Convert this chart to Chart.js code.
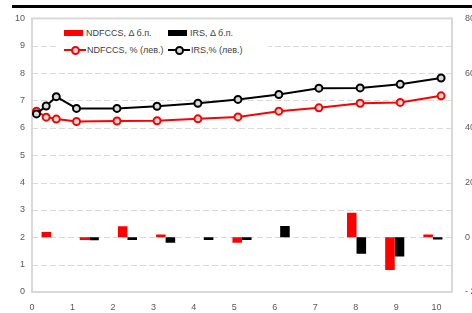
<!DOCTYPE html>
<html>
<head>
<meta charset="utf-8">
<script src="https://cdn.jsdelivr.net/npm/chart.js@4.4.1/dist/chart.umd.min.js"></script>
<style>
    body { margin: 0; background: #fff; }
    #wrap { position: relative; width: 472px; height: 313px; font-family: 'Liberation Sans', Arial, sans-serif; }
    #topRule { position: absolute; left: 12px; right: 0; top: 5px; height: 3px; background: #000; }
    #legend-container {
        position: absolute; left: 58px; top: 22px; width: 210px; height: 38px;
        background: #fff; font-size: 9px; color: #404040;
    }
</style>
</head>
<body>
<div id="wrap">
    <canvas id="mixChart" width="472" height="313"></canvas>
    <div id="topRule"></div>
    <div id="legend-container"></div>
</div>
<script>
// tenor positions of the yield curves (x, years)
const tenors = [0.11, 0.35, 0.60, 1.10, 2.10, 3.09, 4.10, 5.09, 6.10, 7.09, 8.11, 9.10, 10.11];
const ndfccsPct = [6.61, 6.39, 6.32, 6.23, 6.25, 6.26, 6.33, 6.40, 6.61, 6.73, 6.90, 6.93, 7.17];
const irsPct = [6.51, 6.80, 7.14, 6.71, 6.71, 6.79, 6.90, 7.04, 7.22, 7.45, 7.46, 7.59, 7.82];

// changes in b.p. (right axis), one per bar category
const barCategories = ['3M', '1Y', '2Y', '3Y', '4Y', '5Y', '6Y', '7Y', '8Y', '9Y', '10Y'];
const ndfccsDelta = [1.9, -1.0, 4.0, 1.0, 0, -2.0, 0, 0, 9.0, -12.0, 1.0];
const irsDelta = [0, -1.1, -1.0, -2.0, -1.0, -1.0, 4.1, 0, -6.0, -7.0, -0.8];

const xTicks = [0, 1, 2, 3, 4, 5, 6, 7, 8, 9, 10];

const toPoints = (xs, ys) => xs.map((x, i) => ({x: x, y: ys[i]}));

const getOrCreateLegendList = (id) => {
    const legendContainer = document.getElementById(id);
    let listContainer = legendContainer.querySelector('ul');
    if (!listContainer) {
        listContainer = document.createElement('ul');
        listContainer.style.display = 'grid';
        listContainer.style.gridTemplateColumns = '104px 100px';
        listContainer.style.gridTemplateRows = '17px 17px';
        listContainer.style.margin = 0;
        listContainer.style.padding = '2.5px 0 0 6px';
        listContainer.style.listStyle = 'none';
        legendContainer.appendChild(listContainer);
    }
    return listContainer;
};

const htmlLegendPlugin = {
    id: 'htmlLegend',
    afterUpdate(chart, args, options) {
        const ul = getOrCreateLegendList(options.containerID);
        while (ul.firstChild) {
            ul.firstChild.remove();
        }

        chart.data.datasets.forEach(ds => {
            const li = document.createElement('li');
            li.style.display = 'flex';
            li.style.alignItems = 'center';
            li.style.whiteSpace = 'nowrap';

            const mark = document.createElement('span');
            mark.style.display = 'inline-block';
            mark.style.position = 'relative';
            if (ds.type !== 'line') {
                mark.style.width = '19px';
                mark.style.height = '6px';
                mark.style.background = ds.backgroundColor;
                mark.style.marginRight = '3px';
            } else {
                mark.style.width = '22px';
                mark.style.height = '2px';
                mark.style.background = ds.borderColor;
                mark.style.marginRight = '1px';
                const dot = document.createElement('span');
                dot.style.position = 'absolute';
                dot.style.left = '7px';
                dot.style.top = '-3.5px';
                dot.style.width = '5px';
                dot.style.height = '5px';
                dot.style.borderRadius = '50%';
                dot.style.border = '2px solid ' + ds.borderColor;
                dot.style.background = '#d9d9d9';
                mark.appendChild(dot);
            }

            const text = document.createElement('span');
            text.textContent = ds.label;

            li.appendChild(mark);
            li.appendChild(text);
            ul.appendChild(li);
        });
    }
};

// light grey frame and dashed gridlines of the left axis
const plotFrame = {
    id: 'plotFrame',
    beforeDatasetsDraw(chart) {
        const {ctx, chartArea: a} = chart;
        const yScale = chart.scales.y;
        ctx.save();
        ctx.strokeStyle = '#d9d9d9';
        ctx.lineWidth = 1;
        ctx.setLineDash([6, 3]);
        yScale.ticks.forEach(t => {
            const py = Math.round(yScale.getPixelForValue(t.value)) + 0.5;
            ctx.beginPath();
            ctx.moveTo(a.left, py);
            ctx.lineTo(a.right, py);
            ctx.stroke();
        });
        ctx.setLineDash([]);
        ctx.lineWidth = 2;
        ctx.strokeRect(a.left, a.top, a.right - a.left, a.bottom - a.top);
        ctx.restore();
    }
};

const tickFont = {family: "'Liberation Sans', Arial, sans-serif", size: 9};

const mixChart = new Chart('mixChart', {
    type: 'bar',
    data: {
        labels: barCategories,
        datasets: [{
            label: 'NDFCCS, Δ б.п.',
            data: ndfccsDelta,
            backgroundColor: '#ff0000',
            xAxisID: 'xb',
            yAxisID: 'y2',
            order: 2
        }, {
            label: 'IRS, Δ б.п.',
            data: irsDelta,
            backgroundColor: '#000000',
            xAxisID: 'xb',
            yAxisID: 'y2',
            order: 3
        }, {
            type: 'line',
            label: 'NDFCCS, % (лев.)',
            data: toPoints(tenors, ndfccsPct),
            borderColor: '#ff0000',
            borderWidth: 2,
            pointRadius: 3.5,
            pointBorderWidth: 2,
            pointBackgroundColor: '#d9d9d9',
            pointBorderColor: '#ff0000',
            xAxisID: 'x',
            yAxisID: 'y',
            order: 1
        }, {
            type: 'line',
            label: 'IRS,% (лев.)',
            data: toPoints(tenors, irsPct),
            borderColor: '#000000',
            borderWidth: 2,
            pointRadius: 3.5,
            pointBorderWidth: 2,
            pointBackgroundColor: '#d9d9d9',
            pointBorderColor: '#000000',
            xAxisID: 'x',
            yAxisID: 'y',
            order: 0
        }]
    },
    options: {
        responsive: false,
        animation: false,
        layout: {padding: {top: 15, left: 0, right: 0, bottom: 0}},
        // the line datasets sit on their own x axis, so the bar slots are split in four
        categoryPercentage: 1.0,
        barPercentage: 1.0,
        elements: {
            bar: {inflateAmount: 0}
        },
        scales: {
            x: {
                type: 'linear',
                position: 'bottom',
                offset: false,
                min: 0,
                max: 10.38,
                afterBuildTicks: axis => {
                    axis.ticks = xTicks.map(v => ({value: v}));
                },
                afterFit: axis => { axis.height = 21; },
                grid: {display: false, drawTicks: false},
                border: {display: false},
                ticks: {font: tickFont, color: '#595959', padding: 10, maxRotation: 0}
            },
            xb: {
                type: 'category',
                position: 'bottom',
                offset: true,
                display: false,
                // move the pair of bars back onto the middle of each category
                afterBuildTicks: axis => { axis._startValue -= 0.25; }
            },
            y: {
                position: 'left',
                min: 0,
                max: 10,
                afterFit: axis => { axis.width = 32; },
                grid: {display: false, drawTicks: false},
                border: {display: false},
                ticks: {stepSize: 1, font: tickFont, color: '#595959', padding: 7}
            },
            y2: {
                position: 'right',
                min: -20,
                max: 80,
                afterFit: axis => { axis.width = 20; },
                grid: {display: false, drawTicks: false},
                border: {display: false},
                ticks: {
                    stepSize: 20,
                    font: tickFont,
                    color: '#595959',
                    padding: 13,
                    callback: v => v < 0 ? '- ' + (-v) : v
                }
            }
        },
        plugins: {
            htmlLegend: {containerID: 'legend-container'},
            legend: {display: false},
            tooltip: {enabled: false}
        }
    },
    plugins: [htmlLegendPlugin, plotFrame]
});
</script>
</body>
</html>
